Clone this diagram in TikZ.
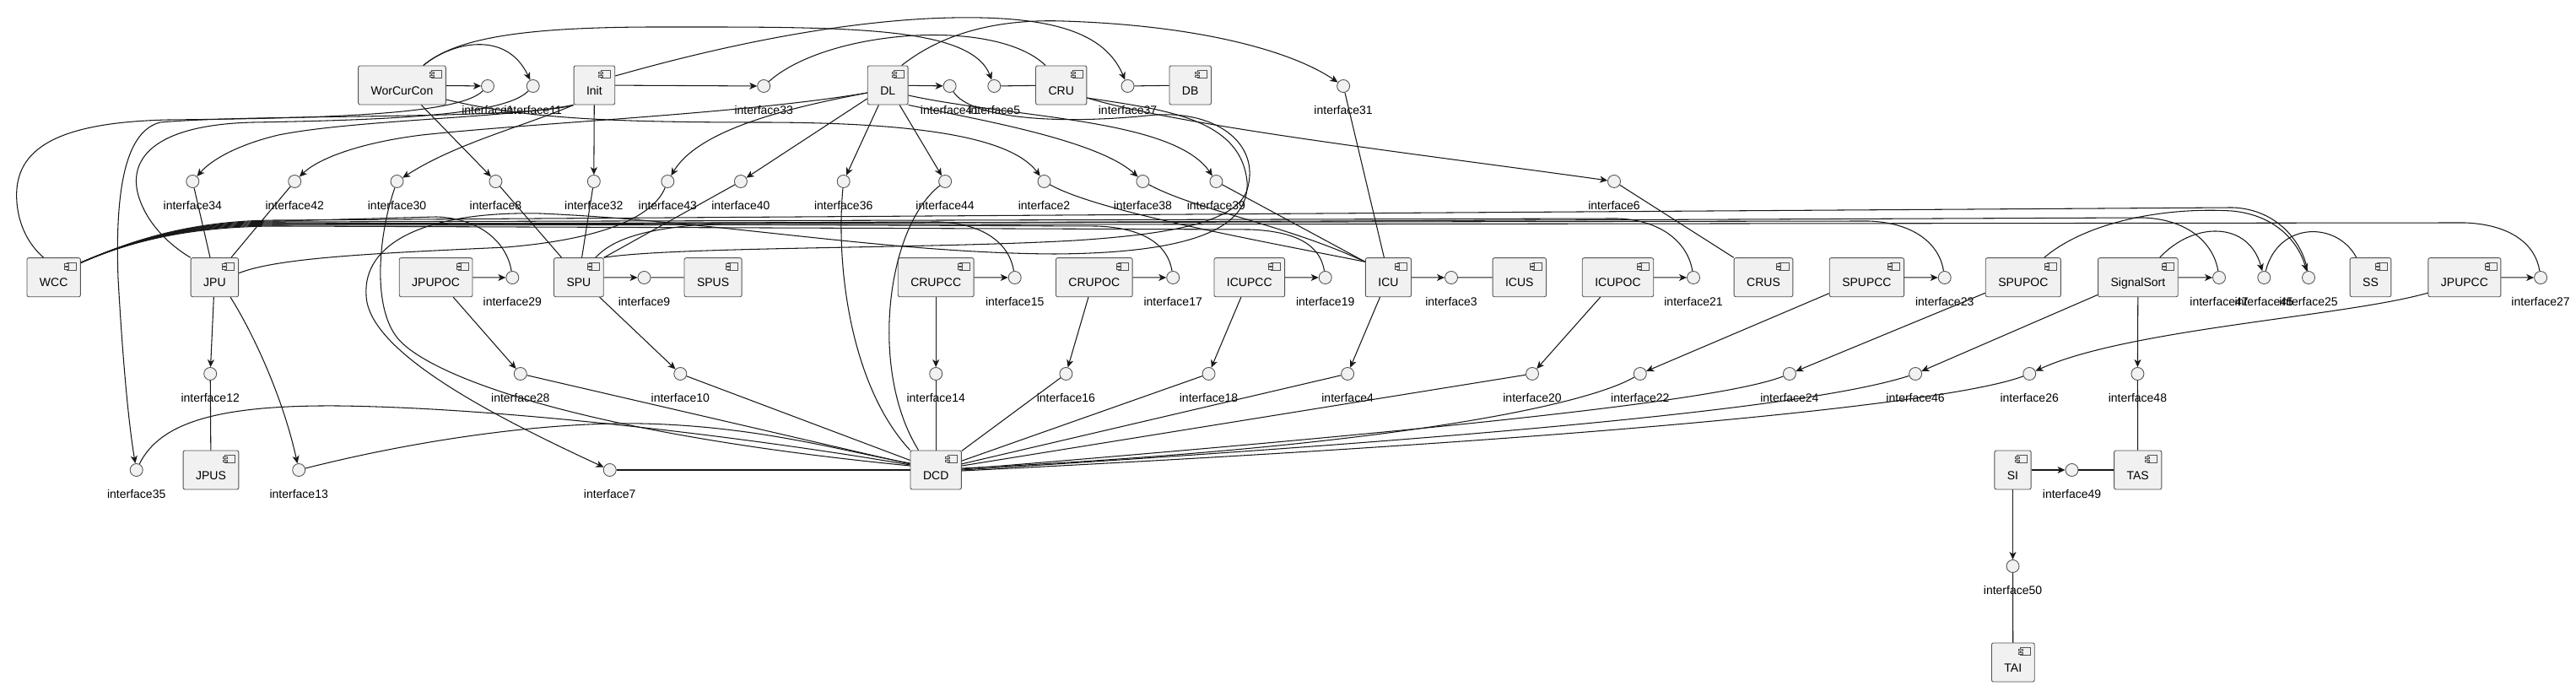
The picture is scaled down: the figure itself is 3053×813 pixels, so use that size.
\documentclass[tikz,border=0pt]{standalone}
\usepackage{fontspec}
\setmainfont{Liberation Sans}
\usepackage{xcolor}
\usepackage{tikz}
\usetikzlibrary{arrows.meta, positioning, calc}

\definecolor{compfill}{HTML}{F1F1F1}
\definecolor{compline}{HTML}{181818}
\newcommand{\umlfont}{\fontsize{3.98}{4.8}\selectfont}

\tikzset{
  comp/.style={draw=compline!75, fill=compfill, line width=0.25pt, rounded corners=0.6pt,
    inner xsep=0.15cm, inner ysep=0pt, text height=0.343cm, text depth=0.117cm, font=\umlfont,
    path picture={
      \draw[sharp corners, compline!75, line width=0.2pt, fill=compfill]
        ([shift={(-0.165cm,-0.053cm)}]path picture bounding box.north east) rectangle ++(0.115cm,-0.094cm);
      \draw[sharp corners, compline!75, line width=0.2pt, fill=compfill]
        ([shift={(-0.19cm,-0.07cm)}]path picture bounding box.north east) rectangle ++(0.05cm,-0.022cm);
      \draw[sharp corners, compline!75, line width=0.2pt, fill=compfill]
        ([shift={(-0.19cm,-0.11cm)}]path picture bounding box.north east) rectangle ++(0.05cm,-0.022cm);
    }},
  iface/.style={circle, draw=compline!75, fill=compfill, line width=0.25pt, minimum size=0.15cm,
    inner sep=0pt},
  every label/.style={font=\umlfont, inner sep=0pt, yshift=-0.145cm},
  lnk/.style={draw=compline, line width=0.3pt},
  arr/.style={lnk, -{Stealth[length=0.09cm, width=0.08cm, inset=0.025cm]}}
}

\begin{document}
\begin{tikzpicture}[x=0.01cm, y=-0.01cm]
    \path[use as bounding box, fill=white] (0,0) rectangle (3053,813);

    % Components
    \foreach \id/\txt/\x/\y in {
        worcurcon/WorCurCon/476.5/101, init/Init/704.4/101, dl/DL/1052.2/101,
        cru/CRU/1257.7/101, db/DB/1410.7/101,
        wcc/WCC/63.7/328.7, jpu/JPU/254.4/328.7, jpupoc/JPUPOC/516.6/328.7,
        spu/SPU/685.9/328.7, spus/SPUS/845.1/328.7, crupcc/CRUPCC/1109.2/328.7,
        crupoc/CRUPOC/1296.8/328.7, icupcc/ICUPCC/1480.8/328.7, icu/ICU/1645.4/328.7,
        icus/ICUS/1800.8/328.7, icupoc/ICUPOC/1917.5/328.7, crus/CRUS/2090/328.7,
        spupcc/SPUPCC/2212.4/328.7, spupoc/SPUPOC/2397.8/328.7,
        signalsort/SignalSort/2533.9/328.7, ss/SS/2809.5/328.7, jpupcc/JPUPCC/2920.9/328.7,
        jpus/JPUS/250/557, dcd/DCD/1109.2/557, si/SI/2385.5/557, tas/TAS/2533.7/557,
        tai/TAI/2385.8/785}
        \node[comp] (\id) at (\x,\y) {\txt\hspace{0.1cm}};

    % Interfaces
    \foreach \n/\x/\y in {
        1/578/102, 11/631.7/102, 33/905.2/102, 41/1125.6/102, 5/1178.3/102,
        37/1336.5/102, 31/1592.1/102,
        34/228.3/215, 42/349.2/215, 30/470.5/215, 8/587.4/215, 32/703.8/215,
        43/791.3/215, 40/877.9/215, 36/999.7/215, 44/1120.1/215, 2/1237.5/215,
        38/1354.4/215, 39/1441.4/215, 6/1913/215,
        29/607.3/329, 9/763.5/329, 15/1202.7/329, 17/1390.2/329, 19/1570.7/329,
        3/1720/329, 21/2007/329, 23/2304.7/329, 47/2630/329, 45/2683.3/329,
        25/2736/329, 27/3011.1/329,
        12/249.2/443, 28/616.8/443, 10/806.3/443, 14/1109.2/443, 16/1263.4/443,
        18/1432.5/443, 4/1597.1/443, 20/1816/443, 22/1943.8/443, 24/2120.9/443,
        46/2270.1/443, 26/2405.2/443, 48/2533.4/443,
        35/161.7/557, 13/354.2/557, 7/722.7/557, 49/2455.5/557, 50/2385.5/671}
        \node[iface, label={below:interface\n}] (i\n) at (\x,\y) {};

    % WorCurCon
    \draw[arr] (worcurcon) -- (i1);
    \draw[arr] ([xshift=-0.27cm]worcurcon.north east) .. controls (535,50) and (600,35) .. (i11);
    \draw[arr] ([xshift=-0.27cm]worcurcon.north east) .. controls (540,45) and (620,32) .. (780,32) .. controls (1000,32) and (1150,30) .. (i5);
    \draw[arr] (worcurcon) -- (i8);
    \draw[arr] ([yshift=-0.17cm]worcurcon.east) .. controls (620,140) and (720,145) .. (900,145) .. controls (1100,145) and (1200,165) .. (i2);

    % Init
    \draw[arr] (init) -- (i33);
    \draw[arr] (init) -- (i32);
    \draw[arr] (init.south west) .. controls (620,150) and (540,170) .. (i30);
    \draw[arr] (init.south west) .. controls (600,140) and (420,142) .. (330,160) .. controls (280,172) and (250,190) .. (i34);
    \draw[arr] (init.south west) .. controls (620,142) and (300,135) .. (190,145) .. controls (150,155) and (136,220) .. (140,330) .. controls (145,420) and (152,500) .. (i35);
    \draw[arr] ([yshift=0.11cm]init.east) .. controls (800,70) and (950,30) .. (1100,22) .. controls (1250,15) and (1310,40) .. (i37);

    % DL
    \draw[arr] (dl) -- (i41);
    \draw[arr] (dl) -- (i40);
    \draw[arr] (dl) -- (i36);
    \draw[arr] (dl) -- (i44);
    \draw[arr] ([yshift=-0.09cm]dl.west) .. controls (950,125) and (830,150) .. (i43);
    \draw[arr] ([yshift=-0.09cm]dl.west) .. controls (880,135) and (640,145) .. (500,160) .. controls (420,170) and (375,190) .. (i42);
    \draw[arr] (dl.south east) .. controls (1150,140) and (1300,165) .. (i38);
    \draw[arr] ([yshift=-0.12cm]dl.east) .. controls (1200,140) and (1390,140) .. (i39);
    \draw[arr] ([xshift=-0.08cm]dl.north east) .. controls (1110,45) and (1170,22) .. (1260,25) .. controls (1420,30) and (1530,60) .. (i31);

    % CRU and DB
    \draw[lnk] (i5) -- (cru);
    \draw[lnk] (i37) -- (db);
    \draw[lnk] (i33) .. controls (980,35) and (1180,20) .. ([xshift=0.12cm]cru.north west);
    \draw[arr] ([yshift=-0.15cm]cru.east) .. controls (1400,150) and (1700,185) .. (i6);
    \draw[lnk] (i6) -- (crus.north west);
    \draw[arr] ([yshift=-0.15cm]cru.east) .. controls (1380,130) and (1470,140) .. (1478,215) .. controls (1482,275) and (1400,300) .. (1250,301) .. controls (1050,300) and (850,262) .. (640,253) .. controls (500,250) and (430,290) .. (434,350) .. controls (436,420) and (600,500) .. (i7);

    % ICU
    \draw[lnk] (i31) -- ([xshift=-0.05cm]icu.north);
    \draw[lnk] (i2) .. controls (1300,250) and (1480,283) .. ([yshift=-0.05cm]icu.north west);
    \draw[lnk] (i38) .. controls (1420,250) and (1520,265) .. ([yshift=-0.05cm]icu.north west);
    \draw[lnk] (i39) -- ([yshift=-0.05cm]icu.north west);

    % SPU
    \draw[lnk] (i8) -- (spu);
    \draw[lnk] (i32) -- (spu);
    \draw[lnk] (i40) -- (spu.north east);
    \draw[lnk] (i41) .. controls (1150,140) and (1250,148) .. (1360,137) .. controls (1440,128) and (1495,170) .. (1478,225) .. controls (1465,265) and (1380,278) .. (1274,285) .. controls (1100,295) and (800,292) .. (spu.north east);
    \draw[lnk] ([xshift=-0.1cm]spu.north east) .. controls (725,285) and (760,270) .. (850,265) -- (2540,258) .. controls (2595,260) and (2624,290) .. (i47);

    % JPU and WCC
    \draw[lnk] (i34) -- (jpu);
    \draw[lnk] (i42) -- (jpu);
    \draw[lnk] (i43) .. controls (775,255) and (720,283) .. (600,293) .. controls (450,300) and (330,305) .. ([yshift=0.05cm]jpu.east);
    \draw[lnk] (i11) .. controls (600,135) and (480,142) .. (300,145) .. controls (180,148) and (150,190) .. (165,235) .. controls (175,265) and (200,290) .. (jpu.north west);
    \draw[lnk] (i1) .. controls (545,135) and (400,140) .. (200,142) .. controls (60,145) and (15,180) .. (20,240) .. controls (23,275) and (40,295) .. ([xshift=0.2cm]wcc.north west);
    \draw[arr] ([xshift=-0.1cm]jpu.south east) .. controls (300,395) and (335,470) .. (i13);
    \foreach \n/\x/\ya/\yb in {29/607.3/262/257, 15/1202.7/266/263, 17/1390.2/264/268,
        19/1570.7/268/272, 21/2007/263/259, 23/2304.7/265/262, 25/2736/261/246, 27/3011.1/267/264}
        \draw[lnk] ([yshift=-0.06cm]wcc.north east) .. controls (150,288) and (220,\ya) .. (330,\ya) -- (\x-90,\yb) .. controls (\x-35,\yb+2) and (\x-6,290) .. (i\n);

    % Right group
    \draw[arr] ([xshift=-0.2cm]spupoc.north east) .. controls (2470,265) and (2560,245) .. (2645,250) .. controls (2700,255) and (2725,290) .. (i25);
    \draw[arr] ([xshift=-0.22cm]signalsort.north east) .. controls (2600,262) and (2665,262) .. (i45);
    \draw[lnk] (i45) .. controls (2700,262) and (2770,262) .. ([xshift=0.08cm]ss.north west);
    \draw[arr] ([yshift=0.05cm]jpupcc.south west) .. controls (2780,375) and (2520,390) .. (i26);

    % Straight arrows
    \foreach \a/\b in {jpupoc/i29, spu/i9, crupcc/i15, crupoc/i17, icupcc/i19, icu/i3, icupoc/i21,
        spupcc/i23, signalsort/i47, jpupcc/i27, jpu/i12, jpupoc/i28, spu/i10, crupcc/i14,
        crupoc/i16, icupcc/i18, icu/i4, icupoc/i20, spupcc/i22, spupoc/i24, signalsort/i46,
        signalsort/i48, si/i49, si/i50}
        \draw[arr] (\a) -- (\b);

    % Straight links
    \foreach \a/\b in {i9/spus, i3/icus, i12/jpus, i48/tas, i49/tas, i50/tai, i14/dcd, i16/dcd,
        i18/dcd, i10/dcd, i4/dcd, i20/dcd, i7/dcd, i28/dcd}
        \draw[lnk] (\a) -- (\b);

    % Curved links into DCD
    \draw[lnk] (i13) .. controls (500,520) and (650,500) .. (760,502) .. controls (900,505) and (1000,535) .. ([yshift=0.08cm]dcd.west);
    \draw[lnk] (i35) .. controls (190,500) and (260,480) .. (400,481) .. controls (600,483) and (900,520) .. ([yshift=0.06cm]dcd.west);
    \draw[lnk] (i30) .. controls (448,280) and (440,370) .. (475,405) .. controls (520,450) and (700,515) .. ([yshift=0.05cm]dcd.west);
    \draw[lnk] (i36) .. controls (990,320) and (1010,460) .. (dcd.north west);
    \draw[lnk] (i44) .. controls (1050,270) and (1030,440) .. ([xshift=0.1cm]dcd.north west);
    \draw[lnk] (i22) .. controls (1880,480) and (1650,530) .. ([yshift=0.02cm]dcd.east);
    \draw[lnk] (i24) .. controls (2040,475) and (1700,510) .. ([yshift=0.01cm]dcd.east);
    \draw[lnk] (i46) .. controls (2170,475) and (1900,510) .. (dcd.east);
    \draw[lnk] (i26) .. controls (2330,472) and (2000,515) .. ([yshift=-0.01cm]dcd.east);
\end{tikzpicture}
\end{document}
